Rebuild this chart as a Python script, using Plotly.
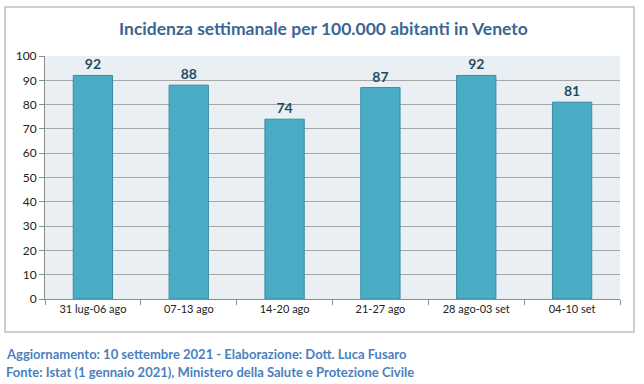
import plotly.graph_objects as go

categories = ["31 lug-06 ago", "07-13 ago", "14-20 ago", "21-27 ago", "28 ago-03 set", "04-10 set"]
values = [92, 88, 74, 87, 92, 81]
y_ticks = [0, 10, 20, 30, 40, 50, 60, 70, 80, 90, 100]

title_text = "Incidenza settimanale per 100.000 abitanti in Veneto"
footer_1 = "Aggiornamento: 10 settembre 2021 - Elaborazione: Dott. Luca Fusaro"
footer_2 = "Fonte: Istat (1 gennaio 2021), Ministero della Salute e Protezione Civile"

FONT = "Lato"
W, H = 644, 384
L, R, T, B = 45, 24, 56, 85
pw, ph = W - L - R, H - T - B

def px_x(x):
    return (x - L) / pw

def px_y(y):
    return (H - B - y) / ph

fig = go.Figure(go.Bar(
    x=categories, y=values,
    marker=dict(color="#4bacc6", line=dict(color="#3a8aa3", width=1)),
    text=values, textposition="outside", cliponaxis=False,
    textfont=dict(family=FONT, size=14, color="#1f4e62", weight="bold"),
    width=0.41,
))

fig.update_layout(
    width=W, height=H,
    margin=dict(l=L, r=R, t=T, b=B),
    paper_bgcolor="white", plot_bgcolor="#e9eff3",
    showlegend=False,
    font=dict(family=FONT, size=11, color="#222222"),
    xaxis=dict(showline=True, linecolor="#8c8c8c", ticks="outside", tickcolor="#8c8c8c",
               ticklen=5, tickson="boundaries", tickfont=dict(size=11, color="#222222"),
               showgrid=False),
    yaxis=dict(range=[0, 100], tickvals=y_ticks, showline=True, linecolor="#8c8c8c",
               ticks="outside", tickcolor="#8c8c8c", ticklen=5,
               gridcolor="#a6a6a6", gridwidth=1, tickfont=dict(size=12, color="#222222"),
               zeroline=False),
    shapes=[dict(type="rect", xref="paper", yref="paper",
                 x0=px_x(5), x1=px_x(634), y0=px_y(332), y1=px_y(7),
                 line=dict(color="#bfbfbf", width=1.5), fillcolor="rgba(0,0,0,0)", layer="below")],
    annotations=[
        dict(text=title_text, xref="paper", yref="paper", x=px_x(323), y=px_y(28),
             xanchor="center", yanchor="middle", showarrow=False,
             font=dict(family=FONT, size=17.5, color="#3b6693", weight="bold")),
        dict(text=footer_1, xref="paper", yref="paper", x=px_x(4), y=px_y(354),
             xanchor="left", yanchor="middle", showarrow=False,
             font=dict(family=FONT, size=13, color="#4a7fbf", weight="bold")),
        dict(text=footer_2, xref="paper", yref="paper", x=px_x(4), y=px_y(372),
             xanchor="left", yanchor="middle", showarrow=False,
             font=dict(family=FONT, size=13, color="#4a7fbf", weight="bold")),
    ],
)

fig.write_html("out.html", config={"displayModeBar": False},
               post_script="document.body.style.margin='0px';document.body.style.overflow='hidden';")
